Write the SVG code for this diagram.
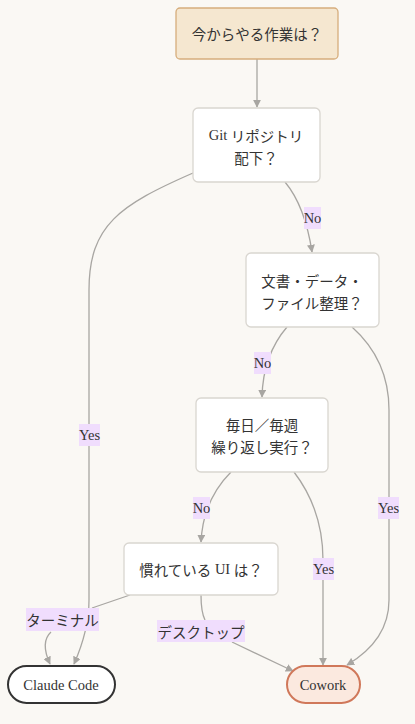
<svg xmlns="http://www.w3.org/2000/svg" width="415" height="724" viewBox="0 0 415 724">
<defs>
<marker id="arr" viewBox="0 0 10 10" refX="9" refY="5" markerWidth="8" markerHeight="8" markerUnits="userSpaceOnUse" orient="auto">
<path d="M0,0 L10,5 L0,10 z" fill="#a8a6a2"/>
</marker>
<style>
text{font-family:"Noto Sans CJK JP",sans-serif;font-size:14.5px;fill:#333;text-anchor:middle;dominant-baseline:central}
.lat{font-family:"Liberation Serif","Times New Roman",serif}
.node{fill:#fff;stroke:#d9d6d0;stroke-width:1.3}
.edge{fill:none;stroke:#a8a6a2;stroke-width:1.3;marker-end:url(#arr)}
.lbl{fill:#f0ddfd}
</style>
</defs>
<rect width="415" height="724" fill="#faf8f4"/>
<g id="connectors">
<path class="edge" d="M257,59 L257,107"/>
<path class="edge" d="M285,182 Q305,206 312,252"/>
<path class="edge" d="M287,327 Q263,355 262,397"/>
<path class="edge" d="M231,472 Q203,500 201,542"/>
<path class="edge" d="M193,173 C120,205 89,225 89,290 L89,600 Q89,630 74,664"/>
<path class="edge" d="M130,595 L92,608 M51,632 Q40,642 50,664"/>
<path class="edge" d="M201,595 Q201,612 205,620 M232,642 L293,671"/>
<path class="edge" d="M294,472 Q323,510 323,560 L323,665"/>
<path class="edge" d="M352,327 Q389,360 389,410 L389,600 Q389,640 347,665"/>
</g>
<g id="start">
<rect x="176" y="8" width="162" height="51" rx="4" fill="#f5e7d0" stroke="#d6ad7c" stroke-width="1.3"/>
<text x="257" y="33">今からやる作業は？</text>
</g>
<g id="git">
<rect class="node" x="193" y="108" width="127" height="74" rx="5"/>
<text x="256" y="135"><tspan class="lat">Git </tspan>リポジトリ</text>
<text x="256" y="157">配下？</text>
</g>
<g id="docs">
<rect class="node" x="246" y="253" width="133" height="74" rx="5"/>
<text x="312" y="280">文書・データ・</text>
<text x="312" y="302">ファイル整理？</text>
</g>
<g id="repeat">
<rect class="node" x="196" y="398" width="132" height="74" rx="5"/>
<text x="262" y="424">毎日／毎週</text>
<text x="262" y="446">繰り返し実行？</text>
</g>
<g id="ui">
<rect class="node" x="124" y="543" width="154" height="52" rx="5"/>
<text x="201" y="569">慣れている<tspan class="lat"> UI </tspan>は？</text>
</g>
<g id="claude">
<rect x="8" y="666" width="107" height="37" rx="18.5" fill="#fff" stroke="#333" stroke-width="2"/>
<text class="lat" x="61" y="685">Claude Code</text>
</g>
<g id="cowork">
<rect x="287" y="666" width="73" height="37" rx="18.5" fill="#fbe9df" stroke="#d0785a" stroke-width="2"/>
<text class="lat" x="323" y="685">Cowork</text>
</g>
<g id="labels">
<rect class="lbl" x="304" y="207" width="17" height="22"/><text class="lat" x="312.5" y="218">No</text>
<rect class="lbl" x="254" y="352" width="17" height="22"/><text class="lat" x="262.5" y="363">No</text>
<rect class="lbl" x="193" y="497" width="17" height="22"/><text class="lat" x="201.5" y="508">No</text>
<rect class="lbl" x="79" y="424" width="21" height="22"/><text class="lat" x="89.5" y="435">Yes</text>
<rect class="lbl" x="313" y="558" width="21" height="22"/><text class="lat" x="323.5" y="569">Yes</text>
<rect class="lbl" x="378" y="497" width="21" height="22"/><text class="lat" x="388.5" y="508">Yes</text>
<rect class="lbl" x="26" y="608" width="73" height="23"/><text x="62.5" y="619.5">ターミナル</text>
<rect class="lbl" x="157" y="620" width="88" height="22"/><text x="201" y="631">デスクトップ</text>
</g>
</svg>
